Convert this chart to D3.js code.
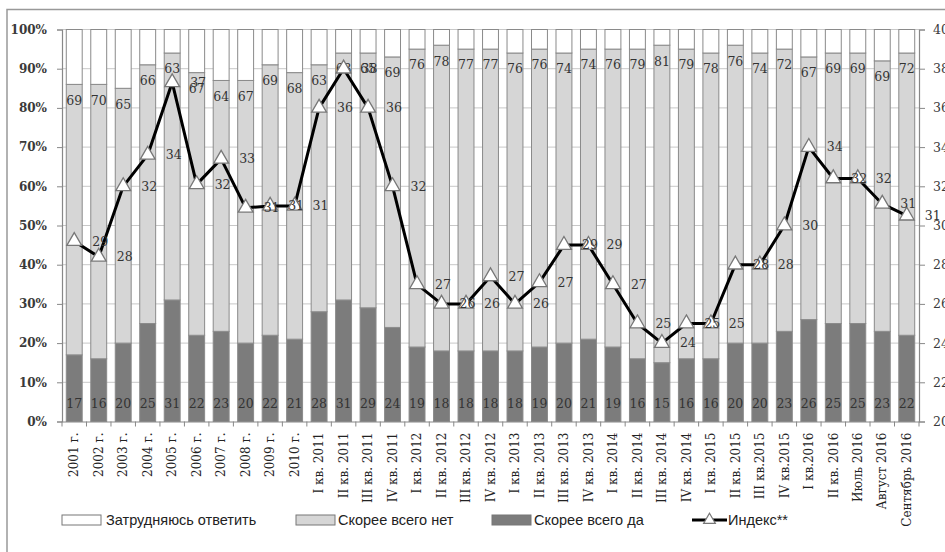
<!DOCTYPE html>
<html><head><meta charset="utf-8">
<script src="https://cdnjs.cloudflare.com/ajax/libs/d3/7.8.5/d3.min.js"></script>
<style>
html,body{margin:0;padding:0;background:#fff;overflow:hidden;}
svg{display:block;}
</style></head>
<body>
<script>
const categories = ["2001 г.","2002 г.","2003 г.","2004 г.","2005 г.","2006 г.","2007 г.","2008 г.","2009 г.","2010 г.",
  "I кв. 2011","II кв. 2011","III кв. 2011","IV кв. 2011",
  "I кв. 2012","II кв. 2012","III кв. 2012","IV кв. 2012",
  "I кв. 2013","II кв. 2013","III кв. 2013","IV кв. 2013",
  "I кв. 2014","II кв. 2014","III кв. 2014","IV кв. 2014",
  "I кв. 2015","II кв. 2015","III кв.2015","IV кв.2015",
  "I кв.2016","II кв. 2016","Июль 2016","Август 2016","Сентябрь 2016"];
const yesValues = [17,16,20,25,31,22,23,20,22,21, 28,31,29,24, 19,18,18,18, 18,19,20,21, 19,16,15,16, 16,20,20,23, 26,25,25,23,22];
const noValues  = [69,70,65,66,63,67,64,67,69,68, 63,63,65,69, 76,78,77,77, 76,76,74,74, 76,79,81,79, 78,76,74,72, 67,69,69,69,72];
const indexValues = [29.2,28.4,32,33.6,37.3,32.1,33.4,30.9,31,31, 36,38,36,32, 27,26,26,27.4, 26,27.1,29,29, 27,25,24,25, 25,28,28,30, 34,32.4,32.4,31.1,30.5];
const leftTicks = [0,0.1,0.2,0.3,0.4,0.5,0.6,0.7,0.8,0.9,1];
const rightTicks = [20,22,24,26,28,30,32,34,36,38,40];
const legendLabels = ["Затрудняюсь ответить","Скорее всего нет","Скорее всего да","Индекс**"];

const W = 945, H = 552;
const L = 62, R = 919, T = 29.5, B = 421.5;
const cWhite = "#ffffff", cLight = "#d6d6d6", cDark = "#7c7c7c", cStroke = "#8a8a8a";
const serif = "DejaVu Serif", sans = "Liberation Sans";

const svg = d3.select("body").append("svg").attr("width", W).attr("height", H);

// frame
svg.append("rect").attr("x",7).attr("y",9.5).attr("width",W+20).attr("height",H+20)
  .attr("fill","none").attr("stroke","#999").attr("stroke-width",1.5);

const x = d3.scaleBand().domain(categories).range([L,R]).paddingInner(0.35).paddingOuter(0.175);
const y = d3.scaleLinear().domain([0,1]).range([B,T]);
const y2 = d3.scaleLinear().domain([20,40]).range([B,T]);

// gridlines
svg.append("g").selectAll("line").data(leftTicks.slice(1)).join("line")
  .attr("x1",L).attr("x2",R).attr("y1",d=>y(d)).attr("y2",d=>y(d))
  .attr("stroke","#c8c8c8").attr("stroke-width",1);

// stacked data
const rows = categories.map((c,i)=>({cat:c, yes:yesValues[i]/100, no:noValues[i]/100, rest:(100-yesValues[i]-noValues[i])/100}));
const stack = d3.stack().keys(["yes","no","rest"])(rows);
const fills = {yes:cDark, no:cLight, rest:cWhite};

svg.append("g").selectAll("g").data(stack).join("g")
  .attr("fill", s=>fills[s.key])
  .selectAll("rect").data(s=>s).join("rect")
  .attr("x", d=>x(d.data.cat)).attr("width", x.bandwidth())
  .attr("y", d=>y(d[1])).attr("height", d=>y(d[0])-y(d[1]))
  .attr("stroke", cStroke).attr("stroke-width",1);

// axes
const axL = svg.append("g").attr("transform",`translate(${L},0)`)
  .call(d3.axisLeft(y).tickValues(leftTicks).tickFormat(d3.format(".0%")).tickSize(5).tickPadding(10));
const axR = svg.append("g").attr("transform",`translate(${R},0)`)
  .call(d3.axisRight(y2).tickValues(rightTicks).tickSize(6).tickPadding(8));
const axB = svg.append("g").attr("transform",`translate(0,${B})`)
  .call(d3.axisBottom(x).tickSize(0).tickPadding(0));
[axL,axR,axB].forEach(a=>{
  a.select(".domain").attr("stroke","#888").attr("stroke-width",1.2);
  a.selectAll(".tick line").attr("stroke","#888");
  a.selectAll("text").attr("font-family",serif).attr("font-size",12.5).attr("fill","#3a3a3a");
});
axL.selectAll("text").attr("font-weight","bold").attr("font-size",12);
axB.selectAll(".tick text")
  .attr("transform","rotate(-90)").attr("text-anchor","end")
  .attr("x",-11).attr("y",0).attr("dy","0.35em").attr("font-size",12).attr("fill","#222");
// category boundary ticks on bottom axis
svg.append("g").selectAll("line").data(d3.range(categories.length+1)).join("line")
  .attr("x1",i=>L+i*x.step()).attr("x2",i=>L+i*x.step())
  .attr("y1",B).attr("y2",B+5).attr("stroke","#888");

// bar labels
const lab = svg.append("g").attr("font-family",serif).attr("font-size",12.5).attr("fill","#333").attr("text-anchor","middle");
lab.selectAll("text.yes").data(rows).join("text").attr("class","yes")
  .attr("x",d=>x(d.cat)+x.bandwidth()/2).attr("y",B-18).attr("dy","0.35em")
  .text(d=>Math.round(d.yes*100));
lab.selectAll("text.no").data(rows).join("text").attr("class","no")
  .attr("x",d=>x(d.cat)+x.bandwidth()/2).attr("y",d=>y(d.yes+d.no)+16).attr("dy","0.35em")
  .text(d=>Math.round(d.no*100));

// index line
const pts = categories.map((c,i)=>({cat:c, v:indexValues[i]}));
const cx = d=>x(d.cat)+x.bandwidth()/2;
svg.append("path").datum(pts)
  .attr("d", d3.line().x(cx).y(d=>y2(d.v)))
  .attr("fill","none").attr("stroke","#000").attr("stroke-width",3).attr("stroke-linejoin","round");
const tri = d3.symbol().type(d3.symbolTriangle).size(95);
svg.append("g").selectAll("path").data(pts).join("path")
  .attr("d",tri).attr("transform",d=>`translate(${cx(d)},${y2(d.v)})`)
  .attr("fill","#fff").attr("stroke","#777").attr("stroke-width",1.3);
svg.append("g").attr("font-family",serif).attr("font-size",12.5).attr("fill","#333")
  .selectAll("text").data(pts).join("text")
  .attr("x",d=>cx(d)+18).attr("y",d=>y2(d.v)).attr("dy","0.35em")
  .text(d=>Math.round(d.v));

// legend
const lg = svg.append("g").attr("font-family",sans).attr("font-size",14.5).attr("fill","#222");
const boxItems = [
  {x:62, fill:cWhite, tx:106, label:legendLabels[0]},
  {x:296, fill:cLight, tx:338, label:legendLabels[1]},
  {x:492, fill:cDark, tx:534, label:legendLabels[2]}
];
boxItems.forEach(it=>{
  lg.append("rect").attr("x",it.x).attr("y",515).attr("width",39).attr("height",10)
    .attr("fill",it.fill).attr("stroke","#777").attr("stroke-width",1);
  lg.append("text").attr("x",it.tx).attr("y",520).attr("dy","0.35em").text(it.label);
});
lg.append("line").attr("x1",692).attr("x2",727).attr("y1",520).attr("y2",520).attr("stroke","#000").attr("stroke-width",3);
lg.append("path").attr("d",d3.symbol().type(d3.symbolTriangle).size(60)).attr("transform","translate(709.5,520)")
  .attr("fill","#fff").attr("stroke","#777").attr("stroke-width",1.2);
lg.append("text").attr("x",728).attr("y",520).attr("dy","0.35em").text(legendLabels[3]);
</script>
</body></html>
